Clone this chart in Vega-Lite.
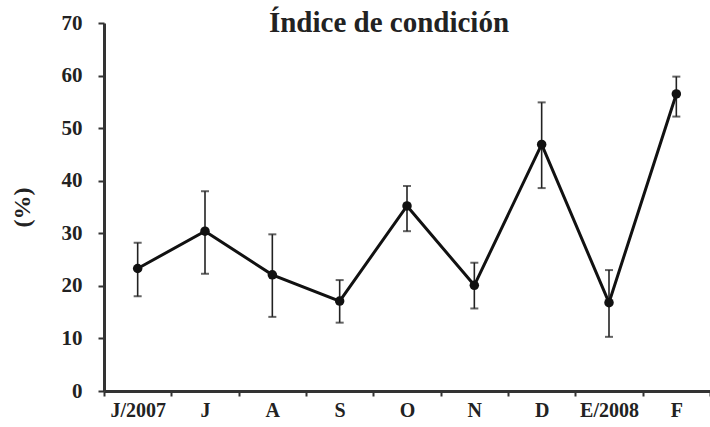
{
  "$schema": "https://vega.github.io/schema/vega-lite/v6.json",
  "autosize": "none",
  "width": 606,
  "height": 368,
  "padding": {"left": 104, "top": 23, "right": 0, "bottom": 36},
  "background": "white",
  "title": {
    "text": "Índice de condición",
    "font": "Liberation Serif, Times New Roman, serif",
    "fontSize": 29,
    "fontWeight": "bold",
    "color": "#222222",
    "anchor": "middle",
    "dx": -18,
    "offset": -26
  },
  "data": {
    "values": [
      {"mes": "J/2007", "valor": 23.3, "min": 18.0, "max": 28.2},
      {"mes": "J", "valor": 30.4, "min": 22.3, "max": 38.0},
      {"mes": "A", "valor": 22.1, "min": 14.1, "max": 29.8},
      {"mes": "S", "valor": 17.1, "min": 13.0, "max": 21.1},
      {"mes": "O", "valor": 35.2, "min": 30.4, "max": 39.0},
      {"mes": "N", "valor": 20.1, "min": 15.7, "max": 24.4},
      {"mes": "D", "valor": 46.9, "min": 38.6, "max": 54.9},
      {"mes": "E/2008", "valor": 16.8, "min": 10.3, "max": 23.0},
      {"mes": "F", "valor": 56.5, "min": 52.2, "max": 59.8}
    ]
  },
  "encoding": {
    "x": {
      "field": "mes",
      "type": "nominal",
      "sort": null,
      "scale": {"paddingInner": 0, "paddingOuter": 0},
      "axis": {
        "title": null,
        "labelAngle": 0,
        "labelFont": "Liberation Serif, Times New Roman, serif",
        "labelFontSize": 20,
        "labelFontWeight": "bold",
        "labelColor": "#222222",
        "labelPadding": 4,
        "tickBand": "extent",
        "tickSize": 5,
        "tickWidth": 2,
        "tickColor": "#333333",
        "domainWidth": 3,
        "domainColor": "#333333",
        "grid": false
      }
    }
  },
  "layer": [
    {
      "mark": {"type": "rule", "color": "#222222", "strokeWidth": 1.6},
      "encoding": {
        "y": {"field": "min", "type": "quantitative"},
        "y2": {"field": "max"}
      }
    },
    {
      "mark": {"type": "tick", "color": "#222222", "thickness": 2, "size": 8, "orient": "horizontal"},
      "encoding": {"y": {"field": "min", "type": "quantitative"}}
    },
    {
      "mark": {"type": "tick", "color": "#222222", "thickness": 2, "size": 8, "orient": "horizontal"},
      "encoding": {"y": {"field": "max", "type": "quantitative"}}
    },
    {
      "mark": {"type": "line", "color": "#111111", "strokeWidth": 3},
      "encoding": {
        "y": {
          "field": "valor",
          "type": "quantitative",
          "scale": {"domain": [0, 70], "nice": false},
          "axis": {
            "title": "(%)",
            "titleFont": "Liberation Serif, Times New Roman, serif",
            "titleFontSize": 24,
            "titleFontWeight": "bold",
            "titleColor": "#222222",
            "titlePadding": 27,
            "values": [0, 10, 20, 30, 40, 50, 60, 70],
            "labelFont": "Liberation Serif, Times New Roman, serif",
            "labelFontSize": 21,
            "labelFontWeight": "bold",
            "labelColor": "#222222",
            "labelPadding": 16,
            "tickSize": 6,
            "tickWidth": 2,
            "tickColor": "#333333",
            "domainWidth": 3,
            "domainColor": "#333333",
            "grid": false
          }
        }
      }
    },
    {
      "mark": {"type": "point", "filled": true, "color": "#111111", "size": 90, "opacity": 1},
      "encoding": {"y": {"field": "valor", "type": "quantitative"}}
    }
  ],
  "config": {"view": {"stroke": null}}
}
